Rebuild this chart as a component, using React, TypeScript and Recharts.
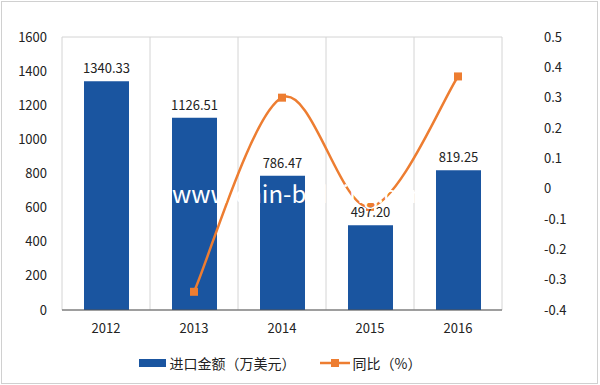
import { ComposedChart, Bar, Line, XAxis, YAxis, CartesianGrid, Legend, LabelList } from 'recharts';

const years = ['2012', '2013', '2014', '2015', '2016'];
const importAmount = [1340.33, 1126.51, 786.47, 497.2, 819.25];
const yoy = [null, -0.34, 0.3, -0.06, 0.37];
const leftTicks = [0, 200, 400, 600, 800, 1000, 1200, 1400, 1600];
const rightTicks = [-0.4, -0.3, -0.2, -0.1, 0, 0.1, 0.2, 0.3, 0.4, 0.5];

const data = years.map((y, i) => ({ year: y, amount: importAmount[i], yoy: yoy[i] }));

const BLUE = '#1a55a0';
const ORANGE = '#ed7d31';
const FONT = '"Noto Sans CJK SC", "Noto Sans", sans-serif';

// Excel-like smoothed line (Catmull-Rom through points)
const excelSmooth = (context: any) => {
  let pts: [number, number][] = [];
  return {
    areaStart() {},
    areaEnd() {},
    lineStart() {
      pts = [];
    },
    lineEnd() {
      if (!pts.length) return;
      context.moveTo(pts[0][0], pts[0][1]);
      for (let i = 0; i < pts.length - 1; i++) {
        const p0 = pts[i - 1] || pts[i];
        const p1 = pts[i];
        const p2 = pts[i + 1];
        const p3 = pts[i + 2] || p2;
        context.bezierCurveTo(
          p1[0] + (p2[0] - p0[0]) / 6,
          p1[1] + (p2[1] - p0[1]) / 6,
          p2[0] - (p3[0] - p1[0]) / 6,
          p2[1] - (p3[1] - p1[1]) / 6,
          p2[0],
          p2[1]
        );
      }
    },
    point(x: number, y: number) {
      pts.push([x, y]);
    },
  };
};

const SquareDot = (props: any) => {
  const { cx, cy } = props;
  if (cx == null || cy == null || props.value == null) return null;
  return <rect x={cx - 4} y={cy - 4} width={8} height={8} fill={ORANGE} />;
};

const LegendContent = () => (
  <div
    style={{
      display: 'flex',
      justifyContent: 'center',
      alignItems: 'center',
      paddingTop: 11,
      fontFamily: FONT,
      fontSize: 14,
      color: '#222',
    }}
  >
    <span style={{ display: 'inline-block', width: 27, height: 8, background: BLUE, marginRight: 4 }} />
    <span style={{ marginRight: 24 }}>进口金额（万美元）</span>
    <svg width={30} height={10} style={{ marginRight: 3 }}>
      <line x1={0} y1={5} x2={30} y2={5} stroke={ORANGE} strokeWidth={2.5} />
      <rect x={11} y={1} width={8} height={8} fill={ORANGE} />
    </svg>
    <span>同比（%）</span>
  </div>
);

export default function App() {
  return (
    <div style={{ position: 'absolute', left: 0, top: 0, width: 600, height: 385, background: '#fff' }}>
      <div style={{ position: 'absolute', left: 1, top: 1, width: 595, height: 381, border: '1px solid #d0d0d0' }} />
      <ComposedChart
        width={600}
        height={385}
        data={data}
        margin={{ top: 37, right: 40, left: 0, bottom: 3 }}
        style={{ fontFamily: FONT }}
      >
        <CartesianGrid
          stroke="#d4d4d4"
          verticalCoordinatesGenerator={({ offset }: any) =>
            years.map((_, i) => offset.left + (i * offset.width) / years.length).concat([offset.left + offset.width])
          }
        />
        <XAxis
          dataKey="year"
          tickLine={false}
          axisLine={{ stroke: '#555' }}
          tick={{ fill: '#222', fontSize: 13 }}
          tickMargin={8}
          height={32}
        />
        <YAxis
          yAxisId="left"
          domain={[0, 1600]}
          ticks={leftTicks}
          interval={0}
          width={62}
          axisLine={false}
          tickLine={false}
          tickMargin={9}
          tick={{ fill: '#222', fontSize: 13 }}
        />
        <YAxis
          yAxisId="right"
          orientation="right"
          domain={[-0.4, 0.5]}
          ticks={rightTicks}
          interval={0}
          width={58}
          axisLine={false}
          tickLine={false}
          tickMargin={36}
          tick={{ fill: '#222', fontSize: 13, textAnchor: 'start' }}
        />
        <Legend content={<LegendContent />} verticalAlign="bottom" height={40} />
        <Bar yAxisId="left" dataKey="amount" fill={BLUE} barSize={45} isAnimationActive={false}>
          <LabelList
            dataKey="amount"
            position="top"
            offset={8}
            formatter={(v: any) => Number(v).toFixed(2)}
            style={{ fill: '#222', fontSize: 13 }}
          />
        </Bar>
        <Line
          yAxisId="right"
          dataKey="yoy"
          type={excelSmooth as any}
          stroke={ORANGE}
          strokeWidth={2.5}
          dot={<SquareDot />}
          activeDot={false}
          isAnimationActive={false}
        />
      </ComposedChart>
      <div
        style={{
          position: 'absolute',
          left: 172,
          top: 181,
          fontFamily: FONT,
          fontSize: 24,
          lineHeight: 1,
          color: '#fff',
          whiteSpace: 'nowrap',
          pointerEvents: 'none',
        }}
      >
        www.chin-bidding.com
      </div>
    </div>
  );
}
